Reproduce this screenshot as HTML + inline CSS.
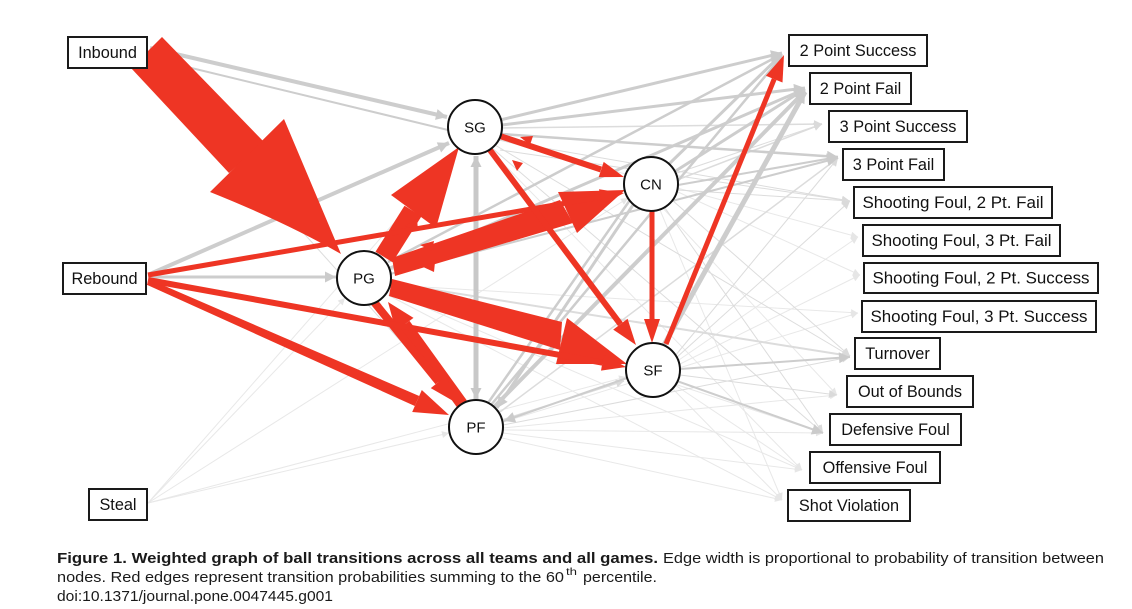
<!DOCTYPE html>
<html><head><meta charset="utf-8"><style>
html,body{margin:0;padding:0;background:#fff;}
svg{display:block;}
</style></head><body>
<svg width="1132" height="609" viewBox="0 0 1132 609" xmlns="http://www.w3.org/2000/svg" font-family="'Liberation Sans', Arial, sans-serif">
<defs>
<marker id="ag" viewBox="0 0 10 10" refX="10" refY="5" markerWidth="15" markerHeight="11" markerUnits="userSpaceOnUse" orient="auto"><path d="M0,0 L10,5 L0,10 z" fill="#cbcbcb"/></marker>
<marker id="ags" viewBox="0 0 10 10" refX="10" refY="5" markerWidth="15" markerHeight="11" markerUnits="userSpaceOnUse" orient="auto-start-reverse"><path d="M0,0 L10,5 L0,10 z" fill="#c8c8c8"/></marker>
<marker id="al" viewBox="0 0 10 10" refX="10" refY="5" markerWidth="11" markerHeight="8" markerUnits="userSpaceOnUse" orient="auto"><path d="M0,0 L10,5 L0,10 z" fill="#dadada"/></marker>
<marker id="av" viewBox="0 0 10 10" refX="10" refY="5" markerWidth="9" markerHeight="7" markerUnits="userSpaceOnUse" orient="auto"><path d="M0,0 L10,5 L0,10 z" fill="#e6e6e6"/></marker>
</defs>
<rect width="1132" height="609" fill="#fff"/>

<!-- very light lines -->
<g stroke="#e8e8e8" stroke-width="1" fill="none">
<line x1="148" y1="503" x2="345" y2="298" marker-end="url(#av)"/>
<line x1="148" y1="503" x2="458" y2="150" marker-end="url(#av)"/>
<line x1="148" y1="503" x2="628" y2="198" marker-end="url(#av)"/>
<line x1="148" y1="503" x2="626" y2="377" marker-end="url(#av)"/>
<line x1="148" y1="503" x2="449" y2="433" marker-end="url(#av)"/>
<line x1="490" y1="150" x2="802" y2="470" marker-end="url(#av)"/>
<line x1="660" y1="210" x2="782" y2="500" marker-end="url(#av)"/>
<line x1="503" y1="430" x2="823" y2="433" marker-end="url(#av)"/>
<line x1="503" y1="433" x2="802" y2="470" marker-end="url(#av)"/>
<line x1="502" y1="438" x2="782" y2="500" marker-end="url(#av)"/>
<line x1="503" y1="428" x2="837" y2="395" marker-end="url(#av)"/>
<line x1="500" y1="140" x2="858" y2="237" marker-end="url(#av)"/>
<line x1="678" y1="192" x2="860" y2="275" marker-end="url(#av)"/>
<line x1="390" y1="285" x2="858" y2="313" marker-end="url(#av)"/>
<line x1="676" y1="362" x2="858" y2="237" marker-end="url(#av)"/>
<line x1="676" y1="366" x2="860" y2="275" marker-end="url(#av)"/>
<line x1="503" y1="422" x2="858" y2="313" marker-end="url(#av)"/>
<line x1="390" y1="292" x2="802" y2="470" marker-end="url(#av)"/>
<line x1="388" y1="295" x2="782" y2="500" marker-end="url(#av)"/>
<line x1="675" y1="385" x2="802" y2="470" marker-end="url(#av)"/>
<line x1="672" y1="388" x2="782" y2="500" marker-end="url(#av)"/>
<line x1="660" y1="205" x2="837" y2="395" marker-end="url(#av)"/>
<line x1="390" y1="290" x2="823" y2="433" marker-end="url(#av)"/>
</g>

<!-- light grey lines -->
<g stroke="#dcdcdc" fill="none">
<line x1="150" y1="62" x2="458" y2="405" stroke-width="1"/>
<line x1="502" y1="128" x2="822" y2="124" stroke-width="1.5" marker-end="url(#al)"/>
<line x1="498" y1="140" x2="850" y2="201" stroke-width="1" marker-end="url(#al)"/>
<line x1="495" y1="145" x2="850" y2="356" stroke-width="1" marker-end="url(#al)"/>
<line x1="492" y1="148" x2="823" y2="433" stroke-width="1" marker-end="url(#al)"/>
<line x1="677" y1="180" x2="822" y2="124" stroke-width="1.5" marker-end="url(#al)"/>
<line x1="678" y1="190" x2="850" y2="201" stroke-width="1" marker-end="url(#al)"/>
<line x1="672" y1="200" x2="850" y2="356" stroke-width="1" marker-end="url(#al)"/>
<line x1="665" y1="208" x2="823" y2="433" stroke-width="1" marker-end="url(#al)"/>
<line x1="390" y1="270" x2="822" y2="124" stroke-width="1" marker-end="url(#al)"/>
<line x1="675" y1="356" x2="838" y2="158" stroke-width="1" marker-end="url(#al)"/>
<line x1="676" y1="358" x2="850" y2="201" stroke-width="1" marker-end="url(#al)"/>
<line x1="680" y1="375" x2="837" y2="395" stroke-width="1" marker-end="url(#al)"/>
<line x1="500" y1="412" x2="838" y2="158" stroke-width="1.5" marker-end="url(#al)"/>
<line x1="502" y1="420" x2="624" y2="381" stroke-width="1.5" marker-end="url(#al)"/>
<line x1="503" y1="425" x2="850" y2="357" stroke-width="1" marker-end="url(#al)"/>
<line x1="500" y1="150" x2="850" y2="201" stroke-width="1"/>
<line x1="391" y1="283" x2="850" y2="356" stroke-width="2" marker-end="url(#al)"/>
</g>

<!-- grey lines -->
<g stroke="#cdcdcd" fill="none">
<line x1="150" y1="48" x2="447" y2="117" stroke-width="4" marker-end="url(#ag)"/>
<line x1="150" y1="58" x2="448" y2="130" stroke-width="2"/>
<line x1="150" y1="274" x2="449" y2="143" stroke-width="4" marker-end="url(#ag)"/>
<line x1="150" y1="277" x2="336" y2="277" stroke-width="3" marker-end="url(#ag)"/>
<line x1="476" y1="156" x2="476" y2="399" stroke-width="5" stroke="#c8c8c8" marker-start="url(#ags)" marker-end="url(#ags)"/>
<line x1="500" y1="120" x2="782" y2="53" stroke-width="3" marker-end="url(#ag)"/>
<line x1="502" y1="125" x2="805" y2="88" stroke-width="3" marker-end="url(#ag)"/>
<line x1="501" y1="134" x2="838" y2="157" stroke-width="2.5" marker-end="url(#ag)"/>
<line x1="668" y1="165" x2="782" y2="54" stroke-width="3" marker-end="url(#ag)"/>
<line x1="674" y1="172" x2="805" y2="89" stroke-width="3" marker-end="url(#ag)"/>
<line x1="678" y1="185" x2="838" y2="157" stroke-width="2" marker-end="url(#ag)"/>
<line x1="633" y1="205" x2="497" y2="408" stroke-width="3" marker-end="url(#ag)"/>
<line x1="388" y1="262" x2="782" y2="54" stroke-width="2.5" marker-end="url(#ag)"/>
<line x1="390" y1="268" x2="805" y2="89" stroke-width="3" marker-end="url(#ag)"/>
<line x1="390" y1="274" x2="838" y2="158" stroke-width="2" marker-end="url(#ag)"/>
<line x1="664" y1="345" x2="805" y2="92" stroke-width="5" marker-end="url(#ag)"/>
<line x1="680" y1="369" x2="850" y2="357" stroke-width="2" marker-end="url(#ag)"/>
<line x1="677" y1="381" x2="823" y2="433" stroke-width="2" marker-end="url(#ag)"/>
<line x1="627" y1="378" x2="504" y2="421" stroke-width="2" marker-end="url(#ag)"/>
<line x1="494" y1="407" x2="805" y2="91" stroke-width="4" marker-end="url(#ag)"/>
<line x1="491" y1="405" x2="782" y2="56" stroke-width="2.5" marker-end="url(#ag)"/>
<line x1="488" y1="403" x2="630" y2="200" stroke-width="2.5"/>
</g>

<!-- red edges -->
<g fill="#ee3524" stroke="none">
<polygon points="162,37 264,142 229,173 131,68"/>
<path d="M284,119 L341,254 Q285,222 210,192 Z"/>
<polygon points="375.5,251.7 404.5,205.7 421.5,216.3 392.5,262.3"/>
<polygon points="391,195 459,147 436,228"/>
<polygon points="392,258 560,200 573,223 395,276"/>
<polygon points="558,192 625,190 577,233"/>
<polygon points="392,279 562,322 560,350 389,296"/>
<polygon points="567,318 627,364 556,364"/>
<polygon points="146.8,284.7 149.2,279.3 419.2,396 414.8,406"/>
<polygon points="421.8,390 449,415 412.2,412"/>
<polygon points="466.8,400.4 409.5,320.9 399.9,328.1 457.2,407.6"/>
<polygon points="413.5,317.9 388,302 395.9,331.1"/>
<polygon points="377.1,299.5 441.7,379.3 435.5,384.3 370.9,304.5"/>
<polygon points="446.4,375.5 455,402 430.8,388.1"/>
<polygon points="601.7,205 624,193 599,189.2"/>
<polygon points="598.7,177.1 624,177 603.7,161.9"/>
<polygon points="613.2,329.6 636,345 627.6,318.8"/>
<polygon points="644,319 652,343 660,319"/>
<polygon points="782.5,82.5 784,55 765.9,75.7"/>
<polygon points="601,370.6 626,367 603.8,354.8"/>
<polygon points="520,137 533,136 530,145"/>
<polygon points="512,160 523,163 517,171"/>
<polygon points="420,245 434,241 432,251"/>
<polygon points="421,266 435,262 434,272"/>
<polygon points="405,226 417,219 418,230"/>
</g>
<g stroke="#ee3524" fill="none">
<line x1="148" y1="275" x2="601" y2="197" stroke-width="5"/>
<line x1="500" y1="136" x2="601" y2="169.5" stroke-width="6"/>
<line x1="490" y1="150" x2="620.4" y2="324.2" stroke-width="6"/>
<line x1="652" y1="211" x2="652" y2="320" stroke-width="5"/>
<line x1="666" y1="344" x2="774.2" y2="79.1" stroke-width="5"/>
<line x1="148" y1="280" x2="602.4" y2="362.7" stroke-width="6"/>
</g>

<!-- nodes -->
<g fill="#fff" stroke="#111" stroke-width="2">
<circle cx="475" cy="127" r="27"/>
<circle cx="651" cy="184" r="27"/>
<circle cx="364" cy="278" r="27"/>
<circle cx="653" cy="370" r="27"/>
<circle cx="476" cy="427" r="27"/>
</g>
<g font-size="15" fill="#111" text-anchor="middle">
<text x="475" y="132.5">SG</text>
<text x="651" y="189.5">CN</text>
<text x="364" y="283.5">PG</text>
<text x="653" y="375.5">SF</text>
<text x="476" y="432.5">PF</text>
</g>

<!-- boxes -->
<g fill="#fff" stroke="#1a1a1a" stroke-width="2">
<rect x="68" y="37" width="79" height="31"/>
<rect x="63" y="263" width="83" height="31"/>
<rect x="89" y="489" width="58" height="31"/>
<rect x="789" y="35" width="138" height="31"/>
<rect x="810" y="73" width="101" height="31"/>
<rect x="829" y="111" width="138" height="31"/>
<rect x="843" y="149" width="101" height="31"/>
<rect x="854" y="187" width="198" height="31"/>
<rect x="863" y="225" width="197" height="31"/>
<rect x="864" y="263" width="234" height="30"/>
<rect x="862" y="301" width="234" height="31"/>
<rect x="855" y="338" width="85" height="31"/>
<rect x="847" y="376" width="126" height="31"/>
<rect x="830" y="414" width="131" height="31"/>
<rect x="810" y="452" width="130" height="31"/>
<rect x="788" y="490" width="122" height="31"/>
</g>
<g font-size="16.3" fill="#111" text-anchor="middle">
<text x="107.5" y="58">Inbound</text>
<text x="104.5" y="284">Rebound</text>
<text x="118" y="510">Steal</text>
<text x="858" y="56">2 Point Success</text>
<text x="860.5" y="94">2 Point Fail</text>
<text x="898" y="132">3 Point Success</text>
<text x="893.5" y="170">3 Point Fail</text>
<text x="953" y="208" textLength="181" lengthAdjust="spacingAndGlyphs">Shooting Foul, 2 Pt. Fail</text>
<text x="961.5" y="246" textLength="180" lengthAdjust="spacingAndGlyphs">Shooting Foul, 3 Pt. Fail</text>
<text x="981" y="283.5" textLength="217" lengthAdjust="spacingAndGlyphs">Shooting Foul, 2 Pt. Success</text>
<text x="979" y="322" textLength="217" lengthAdjust="spacingAndGlyphs">Shooting Foul, 3 Pt. Success</text>
<text x="897.5" y="359">Turnover</text>
<text x="910" y="397">Out of Bounds</text>
<text x="895.5" y="435">Defensive Foul</text>
<text x="875" y="473">Offensive Foul</text>
<text x="849" y="511">Shot Violation</text>
</g>

<!-- caption -->
<g font-size="15" fill="#1a1a1a">
<text x="57" y="563" font-weight="bold" textLength="601" lengthAdjust="spacingAndGlyphs">Figure 1. Weighted graph of ball transitions across all teams and all games.</text>
<text x="663" y="563" textLength="441" lengthAdjust="spacingAndGlyphs">Edge width is proportional to probability of transition between</text>
<text x="57" y="582" textLength="507" lengthAdjust="spacingAndGlyphs">nodes. Red edges represent transition probabilities summing to the 60</text>
<text x="566" y="575" font-size="10" textLength="11" lengthAdjust="spacingAndGlyphs">th</text>
<text x="583" y="582" textLength="74" lengthAdjust="spacingAndGlyphs">percentile.</text>
<text x="57" y="601" textLength="276" lengthAdjust="spacingAndGlyphs">doi:10.1371/journal.pone.0047445.g001</text>
</g>
</svg>
</body></html>
